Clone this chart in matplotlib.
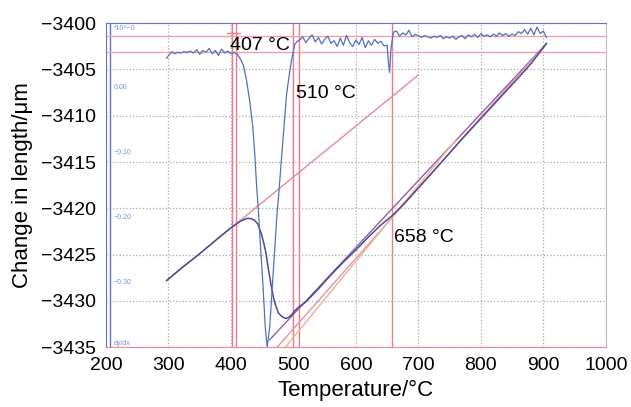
import matplotlib.pyplot as plt
import numpy as np

plt.rcParams['font.family'] = ['Liberation Sans', 'DejaVu Sans']

# Length curve (dilatometer), change in length in um
length_temp = [297, 320, 350, 380, 400, 415, 425, 432, 438, 443, 448, 452, 456, 460,
               464, 468, 472, 476, 480, 484, 488, 492, 497, 503, 510, 520, 540, 560,
               580, 600, 620, 640, 658, 680, 700, 740, 770, 800, 830, 860, 880, 905]
length_val = [-3427.8, -3426.5, -3424.9, -3423.2, -3422.1, -3421.4, -3421.1, -3421.1,
              -3421.3, -3421.7, -3422.6, -3423.6, -3424.8, -3426.6, -3428.2, -3429.6,
              -3430.6, -3431.3, -3431.6, -3431.8, -3431.9, -3431.8, -3431.5, -3431.0,
              -3430.6, -3430.1, -3428.7, -3427.2, -3425.8, -3424.5, -3423.1, -3421.8,
              -3420.8, -3419.3, -3417.8, -3414.8, -3412.5, -3410.3, -3408.1, -3405.9,
              -3404.4, -3402.2]

# Derivative curve dy/dx (secondary scale)
deriv_temp = [297, 300, 305, 310, 315, 320, 325, 330, 335, 340, 345, 350, 355, 360, 365,
              370, 375, 380, 385, 390, 395, 400, 405, 410, 415, 420, 425, 430, 435, 438,
              441, 444, 447, 451, 455, 458, 462, 466, 470, 474, 476, 480, 485, 489, 494,
              498, 502, 506, 510, 515, 520, 525, 530, 535, 540, 545, 550, 555, 560, 565,
              570, 575, 580, 585, 590, 595, 600, 605, 610, 615, 620, 625, 630, 635, 640,
              645, 650, 652, 654, 656, 660, 665, 670, 675, 680, 685, 690, 695, 700, 705,
              710, 715, 720, 725, 730, 735, 740, 745, 750, 755, 760, 765, 770, 775, 780,
              785, 790, 795, 800, 805, 810, 815, 820, 825, 830, 835, 840, 845, 850, 855,
              860, 865, 870, 875, 880, 885, 890, 895, 900, 905]
deriv_val = [0.046, 0.050, 0.056, 0.053, 0.055, 0.054, 0.056, 0.055, 0.057, 0.054, 0.059,
             0.052, 0.058, 0.055, 0.061, 0.053, 0.058, 0.050, 0.060, 0.054, 0.057, 0.053,
             0.055, 0.052, 0.045, 0.035, 0.012, -0.020, -0.060, -0.100, -0.150, -0.190,
             -0.240, -0.300, -0.370, -0.400, -0.370, -0.310, -0.250, -0.190, -0.170,
             -0.120, -0.060, -0.010, 0.025, 0.048, 0.067, 0.072, 0.074, 0.079, 0.070,
             0.077, 0.082, 0.071, 0.078, 0.068, 0.075, 0.080, 0.069, 0.073, 0.064, 0.077,
             0.066, 0.081, 0.070, 0.064, 0.074, 0.067, 0.078, 0.062, 0.073, 0.066, 0.075,
             0.069, 0.072, 0.065, 0.066, 0.040, 0.024, 0.060, 0.086, 0.088, 0.080, 0.085,
             0.082, 0.089, 0.079, 0.083, 0.081, 0.078, 0.081, 0.079, 0.077, 0.080, 0.078,
             0.081, 0.076, 0.079, 0.077, 0.080, 0.075, 0.079, 0.081, 0.076, 0.082, 0.079,
             0.083, 0.078, 0.084, 0.080, 0.082, 0.079, 0.083, 0.080, 0.085, 0.081, 0.084,
             0.080, 0.083, 0.081, 0.087, 0.084, 0.090, 0.083, 0.092, 0.082, 0.094, 0.084,
             0.088, 0.078]

# Tangent lines (start / end points)
upper_tangent_temp = [297, 700]
upper_tangent_val = [-3427.8, -3405.6]
lower_tangents_temp = [[462, 905], [474, 905], [487, 760]]
lower_tangents_val = [[-3434.2, -3402.2], [-3435.0, -3402.2], [-3435.0, -3412.6]]
lower_tangents_col = ['#9a5a9e', '#e890a8', '#f0b090']

# Marker lines
red_vlines = [401, 408, 500, 509, 658]
red_hlines = [-3401.4, -3403.1]
tick_seg_temp = [394, 414]
tick_seg_val = [-3401.1, -3401.1]

# Annotations
ann_text = ['407 °C', '510 °C', '658 °C']
ann_x = [398, 504, 661]
ann_y = [-3402.4, -3407.6, -3423.1]

# Secondary axis labels
dydx_labels = ['*10^−0', '0.00', '−0.10', '−0.20', '−0.30', 'dy/dx']
dydx_pos = [0.092, 0.0, -0.1, -0.2, -0.3, -0.394]

fig = plt.figure(figsize=(6.31, 4.07), dpi=100)
ax = fig.add_axes([0.168, 0.147, 0.792, 0.796])
ax2 = ax.twinx()

ax.set_xlim(200, 1000)
ax.set_ylim(-3435, -3400)
ax2.set_ylim(-0.4, 0.1)

ax.set_xticks(np.arange(200, 1001, 100))
ax.set_yticks(np.arange(-3435, -3399, 5))
ax.tick_params(length=0, labelsize=14, pad=7)
ax.grid(True, color='#aaaaaa', linestyle=':', linewidth=0.9)
ax.set_axisbelow(True)

ax.set_xlabel('Temperature/°C', fontsize=16, labelpad=4)
ax.set_ylabel('Change in length/μm', fontsize=16, labelpad=6)

# spines
ax.spines['top'].set_color('#6a70c8')
ax.spines['left'].set_color('#6a70c8')
ax.spines['bottom'].set_color('#f08890')
ax.spines['right'].set_color('#bbbbbb')
for s in ax2.spines.values():
    s.set_visible(False)
ax2.set_yticks([])
ax.axvline(206, color='#6a70c8', linewidth=1)

# red marker lines
for v in red_vlines:
    ax.axvline(v, color='#ec7c88', linewidth=1)
for h in red_hlines:
    ax.axhline(h, color='#f0a0a8', linewidth=1)
ax.plot(tick_seg_temp, tick_seg_val, color='#ec7c88', linewidth=1)

# tangents
ax.plot(upper_tangent_temp, upper_tangent_val, color='#e88a96', linewidth=1)
for tt, vv, cc in zip(lower_tangents_temp, lower_tangents_val, lower_tangents_col):
    ax.plot(tt, vv, color=cc, linewidth=1)

# curves
ax.plot(length_temp, length_val, color='#4a4a9a', linewidth=1.1)
ax2.plot(deriv_temp, deriv_val, color='#5070c0', linewidth=0.9)

for t, x, y in zip(ann_text, ann_x, ann_y):
    ax.text(x, y, t, fontsize=14, va='center', ha='left')

for t, y in zip(dydx_labels, dydx_pos):
    ax2.text(213, y, t, fontsize=5, color='#7090e0', va='center', ha='left')

fig.savefig('out.png', dpi=100)
